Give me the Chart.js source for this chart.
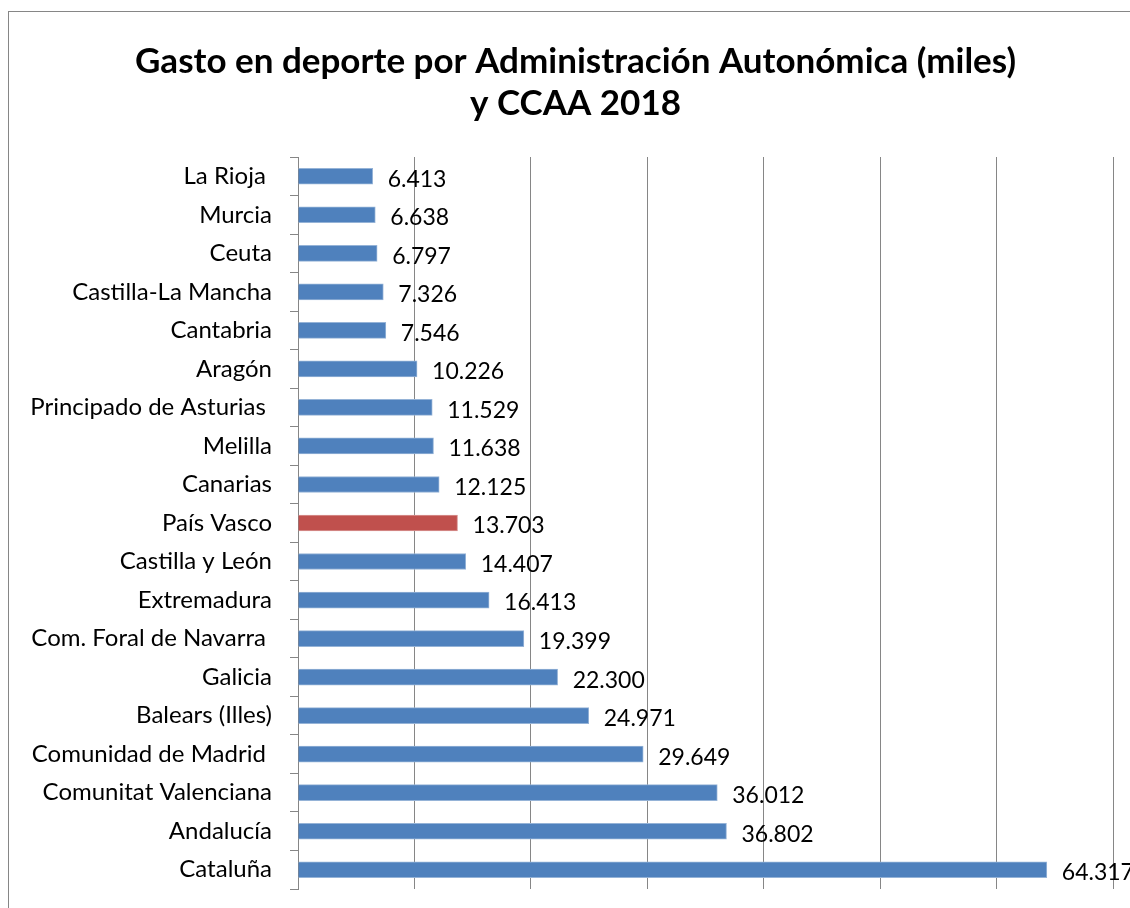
<!DOCTYPE html>
<html>
<head>
<meta charset="utf-8">
<script src="https://cdn.jsdelivr.net/npm/chart.js@4"></script>
<style>
  html, body { margin: 0; padding: 0; background: #fff; overflow: hidden; }
  #wrap { position: relative; width: 1130px; height: 908px; }
  #frame { position: absolute; left: 8px; top: 11px; width: 1140px; height: 920px; border: 1px solid #868686; box-sizing: border-box; }
  canvas { position: absolute; left: 0; top: 0; }
</style>
</head>
<body>
<div id="wrap">
  <div id="frame"></div>
  <canvas id="myChart" width="1130" height="908"></canvas>
</div>
<script>
// datos del gráfico
const regiones = [
  'La Rioja ', 'Murcia', 'Ceuta', 'Castilla-La Mancha', 'Cantabria', 'Aragón',
  'Principado de Asturias ', 'Melilla', 'Canarias', 'País Vasco', 'Castilla y León',
  'Extremadura', 'Com. Foral de Navarra ', 'Galicia', 'Balears (Illes)',
  'Comunidad de Madrid ', 'Comunitat Valenciana', 'Andalucía', 'Cataluña'
];
const gasto = [
  6413, 6638, 6797, 7326, 7546, 10226, 11529, 11638, 12125, 13703, 14407,
  16413, 19399, 22300, 24971, 29649, 36012, 36802, 64317
];
const destacado = 'País Vasco';
const ejeMax = 70000;
const ejePaso = 10000;

const azul = '#4F81BD';
const rojo = '#C0504D';
const fuente = 'Lato, "Liberation Sans", sans-serif';

// formato con punto de miles
const fmt = v => v.toLocaleString('de-DE');

// etiquetas de valor al final de cada barra
const etiquetas = {
  id: 'etiquetas',
  afterLayout(chart) {
    // el título está centrado en el marco, no en el lienzo
    if (chart.titleBlock) chart.titleBlock.left += 38;
  },
  afterDatasetsDraw(chart) {
    const ctx = chart.ctx;
    const meta = chart.getDatasetMeta(0);
    ctx.save();
    ctx.font = '23px ' + fuente;
    ctx.fillStyle = '#000';
    ctx.textBaseline = 'middle';
    ctx.textAlign = 'left';
    meta.data.forEach((bar, i) => {
      ctx.fillText(fmt(gasto[i]), bar.x + 15, bar.y + 3);
    });
    ctx.restore();
  }
};

const ctx = document.getElementById('myChart');
new Chart(ctx, {
  type: 'bar',
  data: {
    labels: regiones,
    datasets: [{
      data: gasto,
      backgroundColor: regiones.map(r => r.trim() === destacado ? rojo : azul),
      borderColor: regiones.map(r => r.trim() === destacado ? '#D99694' : '#95B3D7'),
      borderWidth: 1,
      borderSkipped: 'left',
      barThickness: 16
    }]
  },
  options: {
    indexAxis: 'y',
    responsive: false,
    animation: false,
    layout: { padding: { left: 0, right: 17, top: 11, bottom: 19 } },
    plugins: {
      legend: { display: false },
      tooltip: { enabled: false },
      title: {
        display: true,
        text: ['Gasto en deporte por Administración Autonómica (miles)', 'y CCAA 2018'],
        color: '#000',
        font: { family: fuente, size: 35, weight: 'bold', lineHeight: 1.2 },
        padding: { top: 30, bottom: 32 }
      }
    },
    scales: {
      x: {
        min: 0,
        max: ejeMax,
        ticks: { display: false, stepSize: ejePaso },
        grid: { color: '#868686', lineWidth: 1, drawTicks: false },
        border: { display: false }
      },
      y: {
        afterFit(scale) {
          scale.width = 298;
          scale.paddingTop = 0;
          scale.paddingBottom = 0;
        },
        ticks: { color: '#000', font: { family: fuente, size: 24 }, padding: 18 },
        grid: { drawOnChartArea: false, drawTicks: true, tickLength: 8, color: '#868686', offset: true },
        border: { display: true, color: '#868686' }
      }
    }
  },
  plugins: [etiquetas]
});
</script>
</body>
</html>
